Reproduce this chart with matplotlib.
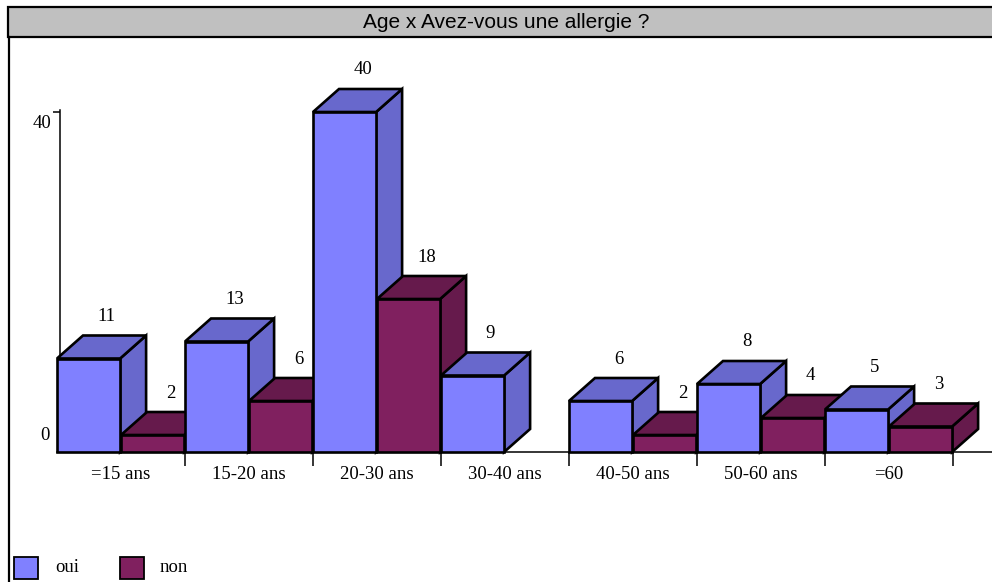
import matplotlib
matplotlib.use("Agg")
import matplotlib.pyplot as plt
from matplotlib.patches import Polygon, Rectangle
from matplotlib.ticker import FixedLocator, NullFormatter, FixedFormatter

categories = ["=15 ans", "15-20 ans", "20-30 ans", "30-40 ans", "40-50 ans", "50-60 ans", "=60"]
oui = [11, 13, 40, 9, 6, 8, 5]
non = [2, 6, 18, 0, 2, 4, 3]
series_names = ["oui", "non"]
title = "Age x Avez-vous une allergie ?"

front_colors = ["#8080FF", "#80205F"]
shade_colors = ["#6868CC", "#661A4C"]

W, H, DPI = 992, 582, 100
fig = plt.figure(figsize=(W / DPI, H / DPI), dpi=DPI)
fig.patch.set_facecolor("white")

serif = "Liberation Serif"
sans = "Liberation Sans"
fs = 13.5

# axes geometry (pixels)
ax_left_px, ax_base_px, ax_top_px = 57, 452, 45
px_per_cat = 128
px_per_unit = 8.5
ax = fig.add_axes([ax_left_px / W, (H - ax_base_px) / H,
                   (W - ax_left_px) / W, (ax_base_px - ax_top_px) / H])
ax.set_xlim(0, (W - ax_left_px) / px_per_cat)
ax.set_ylim(0, (ax_base_px - ax_top_px) / px_per_unit)
ax.patch.set_alpha(0)

# depth offset converted through the axes transform
inv = ax.transData.inverted()
p0 = ax.transData.transform((0, 0))
d = inv.transform((p0[0] + 26, p0[1] + 23))
ddx, ddy = d[0], d[1]

bar_w = 0.493
z = 5
for i in range(len(categories)):
    for s, vals in enumerate([oui, non]):
        v = vals[i]
        if v <= 0:
            continue
        x0 = i + s * 0.5
        x1 = x0 + bar_w
        side = [(x1, 0), (x1 + ddx, ddy), (x1 + ddx, v + ddy), (x1, v)]
        top = [(x0, v), (x1, v), (x1 + ddx, v + ddy), (x0 + ddx, v + ddy)]
        front = [(x0, 0), (x1, 0), (x1, v), (x0, v)]
        for pts, col in [(side, shade_colors[s]), (top, shade_colors[s]), (front, front_colors[s])]:
            ax.add_patch(Polygon(pts, closed=True, facecolor=col, edgecolor="black",
                                 linewidth=1.9, joinstyle="miter", zorder=z, clip_on=False))
            z += 1
        ax.annotate(str(v), xy=(x0 + bar_w / 2, v), xytext=(18, 23 + 19),
                    textcoords="offset pixels", ha="center", va="center",
                    fontsize=fs, family=serif, color="black", zorder=200,
                    annotation_clip=False)

# spines
for sp in ["top", "right"]:
    ax.spines[sp].set_visible(False)
ax.spines["bottom"].set_linewidth(1.1)
ax.spines["bottom"].set_zorder(1)
ax.spines["left"].set_position(("data", 3 / px_per_cat))
ax.spines["left"].set_bounds(0, 40.2)
ax.spines["left"].set_linewidth(1.1)
ax.spines["left"].set_zorder(1)

ax.xaxis.set_major_locator(FixedLocator(list(range(1, len(categories) + 1))))
ax.xaxis.set_major_formatter(NullFormatter())
ax.xaxis.set_minor_locator(FixedLocator([i + 0.5 for i in range(len(categories))]))
ax.xaxis.set_minor_formatter(FixedFormatter(categories))
ax.tick_params(axis="x", which="major", direction="out", length=10, width=1.1)
ax.tick_params(axis="x", which="minor", length=0, pad=10, labelsize=fs)
for lab in ax.get_xticklabels(minor=True):
    lab.set_family(serif)

ax.yaxis.set_major_locator(FixedLocator([40]))
ax.yaxis.set_major_formatter(NullFormatter())
ax.tick_params(axis="y", direction="out", length=5, width=1.1)
ax.annotate("40", xy=(3 / px_per_cat, 40), xytext=(-18, -11), textcoords="offset pixels",
            ha="center", va="center", fontsize=fs, family=serif, annotation_clip=False)
ax.annotate("0", xy=(3 / px_per_cat, 0), xytext=(-15, 17), textcoords="offset pixels",
            ha="center", va="center", fontsize=fs, family=serif, annotation_clip=False)

# frame and title bar
def fx(x):
    return x / W

def fy(y):
    return 1 - y / H

fig.add_artist(Rectangle((fx(8), fy(37)), fx(W + 10) - fx(8), fy(7) - fy(37),
                         transform=fig.transFigure, facecolor="#C0C0C0",
                         edgecolor="black", linewidth=1.6, zorder=0))
fig.add_artist(plt.Line2D([fx(9), fx(9)], [fy(37), 0], transform=fig.transFigure,
                          color="black", linewidth=1.6))
fig.text(fx(506), fy(22), title, ha="center", va="center", fontsize=15, family=sans)

# legend
leg_items = [(14, series_names[0], front_colors[0], 55), (120, series_names[1], front_colors[1], 160)]
for xs, name, col, xt in leg_items:
    fig.add_artist(Rectangle((fx(xs), fy(579)), fx(24), 22 / H, transform=fig.transFigure,
                             facecolor=col, edgecolor="black", linewidth=1.3))
    fig.text(fx(xt), fy(567), name, ha="left", va="center", fontsize=fs, family=serif)

fig.savefig("out.png", dpi=DPI)
